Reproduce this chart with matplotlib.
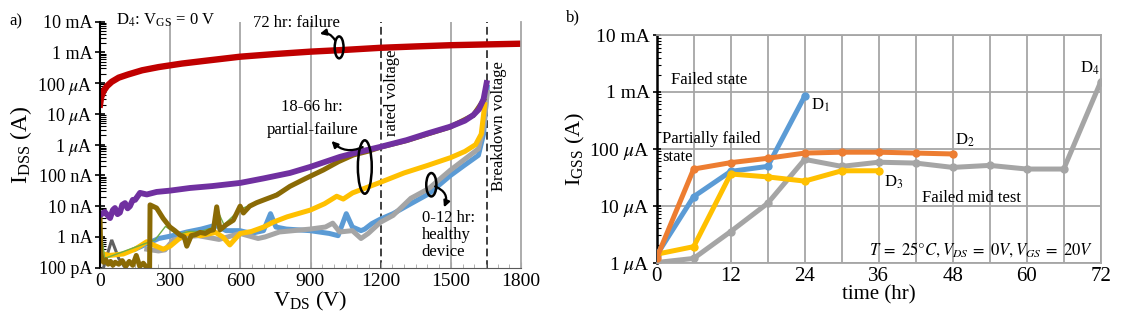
import matplotlib
matplotlib.use("Agg")
import matplotlib.pyplot as plt
from matplotlib.patches import Ellipse
from matplotlib.ticker import FixedLocator, LogLocator, NullFormatter, MultipleLocator

plt.rcParams['font.family'] = ['Liberation Serif', 'DejaVu Serif']
plt.rcParams['mathtext.fontset'] = 'stix'

# ---- a) drain leakage sweeps, D4 ----
v_red = [0, 5, 15, 30, 50, 80, 120, 180, 250, 350, 450, 600, 750, 900, 1050, 1200, 1350, 1500, 1650, 1800]
i_red = [2.0e-5, 3.5e-5, 5.5e-5, 8e-5, 1.1e-4, 1.5e-4, 1.9e-4, 2.6e-4, 3.3e-4, 4.3e-4, 5.3e-4, 7.2e-4,
         8.8e-4, 1.05e-3, 1.2e-3, 1.4e-3, 1.55e-3, 1.7e-3, 1.8e-3, 1.9e-3]

v_purple = [0, 20, 43, 55, 64, 75, 85, 95, 107, 118, 128, 140, 150, 171, 200, 242, 300, 385, 480, 600,
            700, 812, 900, 1026, 1100, 1200, 1311, 1400, 1496, 1560, 1596, 1620, 1640, 1653]
i_purple = [5.1e-9, 6.5e-9, 4.1e-9, 7.5e-9, 8.7e-9, 5.5e-9, 6.2e-9, 1.1e-8, 1.26e-8, 8.5e-9, 1.0e-8,
            1.6e-8, 1.6e-8, 2.7e-8, 2.4e-8, 2.9e-8, 3.2e-8, 3.9e-8, 4.5e-8, 5.7e-8, 8e-8, 1.2e-7, 1.9e-7,
            4e-7, 5.6e-7, 8.5e-7, 1.4e-6, 2.3e-6, 3.8e-6, 6e-6, 9.1e-6, 1.4e-5, 3e-5, 1e-4]

v_olive = [0, 3, 8, 15, 25, 35, 45, 55, 65, 80, 95, 110, 125, 140, 155, 170, 185, 200, 212, 214, 242, 270,
           299, 320, 342, 360, 371, 390, 410, 428, 450, 470, 485, 499, 513, 540, 570, 599, 613, 640, 670,
           710, 756, 812, 880, 955, 1020, 1083, 1150, 1200, 1311, 1400, 1496, 1596, 1640]
i_olive = [5e-9, 3e-10, 2e-10, 1.5e-10, 1.8e-10, 1.3e-10, 1.6e-10, 1.2e-10, 1.5e-10, 1.3e-10, 1.7e-10,
           1.1e-10, 1.6e-10, 1.2e-10, 2.5e-10, 1.1e-10, 1.4e-10, 1.0e-10, 9e-11, 1.1e-8, 8.7e-9, 4e-9,
           2.1e-9, 1.6e-9, 1.15e-9, 1.0e-9, 5e-10, 1.1e-9, 1.2e-9, 1.4e-9, 1.3e-9, 1.6e-9, 1.7e-9, 9.5e-9,
           1.7e-9, 2.5e-9, 3.5e-9, 1e-8, 6e-9, 1.0e-8, 1.3e-8, 1.7e-8, 2.3e-8, 4.4e-8, 8e-8, 1.5e-7,
           2.8e-7, 4.6e-7, 6.2e-7, 8.3e-7, 1.35e-6, 2.2e-6, 3.7e-6, 9e-6, 2.8e-5]

v_green = [0, 5, 20, 235, 280, 330, 380, 430, 480, 500, 530, 600, 700, 800, 900, 1000, 1100, 1300, 1500, 1600]
i_green = [2.5e-8, 1.5e-9, 2e-10, 8e-10, 2.2e-9, 1.2e-9, 1.5e-9, 1.5e-9, 2e-9, 8e-9, 2.5e-9, 8e-9,
           1.6e-8, 4e-8, 9e-8, 2.4e-7, 5e-7, 1.4e-6, 3.8e-6, 8e-6]

v_dgray = [15, 30, 50, 65, 80, 100]
i_dgray = [1e-10, 2.5e-10, 8e-10, 4e-10, 2e-10, 1.2e-10]

v_blue = [150, 205, 251, 311, 372, 433, 494, 539, 598, 646, 699, 729, 752, 797, 898, 980, 1018, 1053,
          1079, 1116, 1132, 1162, 1199, 1253, 1329, 1405, 1499, 1557, 1618, 1640, 1656]
i_blue = [4e-10, 6.2e-10, 8.9e-10, 1.1e-9, 1.45e-9, 1.8e-9, 2.4e-9, 1.6e-9, 1.6e-9, 1.3e-9, 1.6e-9,
          5.7e-9, 2.1e-9, 1.8e-9, 1.6e-9, 1.3e-9, 1.1e-9, 5.7e-9, 2.1e-9, 1.6e-9, 1.8e-9, 2.7e-9, 3.8e-9,
          5.7e-9, 1.2e-8, 2.5e-8, 1e-7, 2.1e-7, 4.5e-7, 2.2e-6, 7.3e-5]

v_gray = [200, 250, 278, 313, 360, 420, 509, 598, 676, 706, 767, 898, 964, 995, 1025, 1079, 1116, 1147,
          1199, 1253, 1329, 1405, 1499, 1618, 1640, 1656]
i_gray = [4e-10, 3.5e-10, 3.8e-10, 7.9e-10, 1.0e-9, 1.1e-9, 8.3e-10, 1.3e-9, 8.9e-10, 1e-9, 1.45e-9,
          1.8e-9, 2.1e-9, 2.8e-9, 1.45e-9, 1.6e-9, 8.9e-10, 1.3e-9, 3e-9, 5e-9, 1.8e-8, 3.7e-8, 1.5e-7,
          7.3e-7, 3.7e-6, 5e-5]

v_yellow = [0, 40, 100, 150, 200, 235, 270, 300, 340, 373, 430, 494, 525, 555, 580, 600, 647, 700, 740,
            800, 900, 960, 1012, 1040, 1080, 1200, 1300, 1400, 1500, 1560, 1606, 1630, 1645]
i_yellow = [3e-10, 2.5e-10, 2.8e-10, 4e-10, 7e-10, 5.2e-10, 4e-10, 5e-10, 9e-10, 1.3e-9, 1.1e-9, 1.4e-9,
            1e-9, 5.5e-10, 9e-10, 1.3e-9, 1.5e-9, 2.1e-9, 3e-9, 4.5e-9, 7.5e-9, 1.2e-8, 2.1e-8, 1.7e-8,
            2.7e-8, 6e-8, 1.2e-7, 2.1e-7, 3.8e-7, 6e-7, 1.0e-6, 2.2e-6, 2e-5]

ya_ticks = [1e-10, 1e-9, 1e-8, 1e-7, 1e-6, 1e-5, 1e-4, 1e-3, 1e-2]
ya_labels = ['100 pA', '1 nA', '10 nA', '100 nA', r'1 $\mu$A', r'10 $\mu$A', r'100 $\mu$A', '1 mA', '10 mA']
xa_ticks = [0, 300, 600, 900, 1200, 1500, 1800]

# ---- b) gate leakage over stress time ----
t_d1 = [0, 6, 12, 18, 24]
ig_d1 = [1.35e-6, 14.4e-6, 40e-6, 49e-6, 840e-6]
t_d2 = [0, 6, 12, 18, 24, 30, 36, 42, 48]
ig_d2 = [1.2e-6, 44e-6, 57e-6, 68e-6, 84e-6, 87e-6, 87e-6, 84e-6, 81e-6]
t_d3 = [0, 6, 12, 18, 24, 30, 36]
ig_d3 = [1.4e-6, 1.9e-6, 36e-6, 32e-6, 27e-6, 41e-6, 41e-6]
t_d4 = [0, 6, 12, 18, 24, 30, 36, 42, 48, 54, 60, 66, 72]
ig_d4 = [1.0e-6, 1.18e-6, 3.5e-6, 11e-6, 65e-6, 49e-6, 58e-6, 56e-6, 47e-6, 51e-6, 44e-6, 44e-6, 1.5e-3]

yb_ticks = [1e-6, 1e-5, 1e-4, 1e-3, 1e-2]
yb_labels = [r'1 $\mu$A', r'10 $\mu$A', r'100 $\mu$A', '1 mA', '10 mA']

fig = plt.figure(figsize=(11.25, 3.29), dpi=100)
ax1 = fig.add_axes([0.0889, 0.1863, 0.3742, 0.7483])
ax2 = fig.add_axes([0.5837, 0.2021, 0.3947, 0.6915])

grid_c = '#a6a6a6'

# left panel
for v in [300, 600, 900, 1500]:
    ax1.axvline(v, color=grid_c, lw=1.3, zorder=0)
for v in [1200, 1653]:
    ax1.axvline(v, color='#404040', lw=1.4, ls=(0, (4, 2)), zorder=0)

ax1.plot(v_dgray, i_dgray, color='#606060', lw=2.2, solid_joinstyle='miter')
ax1.plot(v_blue, i_blue, color='#5b9bd5', lw=3.6)
ax1.plot(v_gray, i_gray, color='#a5a5a5', lw=3.6)
ax1.plot(v_yellow, i_yellow, color='#ffc000', lw=3.6)
ax1.plot(v_green, i_green, color='#70ad47', lw=1.0)
ax1.plot(v_olive, i_olive, color='#8a6a05', lw=3.6)
ax1.plot(v_purple, i_purple, color='#7030a0', lw=4.2)
ax1.plot(v_red, i_red, color='#c00000', lw=4.6)

ax1.set_yscale('log')
ax1.set_ylim(1e-10, 1e-2)
ax1.set_xlim(0, 1800)
ax1.yaxis.set_major_locator(FixedLocator(ya_ticks))
ax1.set_yticklabels(ya_labels)
ax1.yaxis.set_minor_locator(LogLocator(base=10, subs=range(2, 10), numticks=20))
ax1.yaxis.set_minor_formatter(NullFormatter())
ax1.set_xticks(xa_ticks)
ax1.xaxis.set_minor_locator(MultipleLocator(50))
ax1.tick_params(axis='y', which='major', direction='inout', length=7, width=1.2, labelsize=13, pad=2)
ax1.tick_params(axis='y', which='minor', direction='in', length=4, width=0.8)
ax1.tick_params(axis='x', which='major', direction='in', length=4, color=grid_c, labelsize=14)
ax1.tick_params(axis='x', which='minor', direction='in', length=3, color=grid_c)
ax1.spines['top'].set_visible(False)
ax1.spines['right'].set_color(grid_c)
ax1.spines['right'].set_linewidth(1.3)
ax1.spines['bottom'].set_color('#595959')
ax1.spines['left'].set_linewidth(1.5)
ax1.set_ylabel(r'$\mathregular{I_{DSS}}$ (A)', fontsize=17, labelpad=2)
ax1.set_xlabel(r'$\mathregular{V_{DS}}$ (V)', fontsize=16, labelpad=0)

ax1.text(654, 9e-3, '72 hr: failure', fontsize=12, va='center')
ax1.text(907, 1.7e-5, '18-66 hr:', fontsize=12, ha='center', va='center')
ax1.text(907, 3.0e-6, 'partial-failure', fontsize=12, ha='center', va='center')
ax1.text(1375, 4e-9, '0-12 hr:', fontsize=12, va='center')
ax1.text(1375, 1.15e-9, 'healthy', fontsize=12, va='center')
ax1.text(1375, 3.3e-10, 'device', fontsize=12, va='center')
ax1.text(1247, 1.2e-3, 'rated voltage', fontsize=12, rotation=90, ha='center', va='top')
ax1.text(1707, 5e-4, 'Breakdown voltage', fontsize=12, rotation=90, ha='center', va='top')

for cx, cy, w, h in [(0.568, 0.895, 0.021, 0.089), (0.629, 0.409, 0.033, 0.217), (0.787, 0.337, 0.024, 0.095)]:
    ax1.add_patch(Ellipse((cx, cy), w, h, transform=ax1.transAxes, fill=False, ec='black', lw=1.8, zorder=6))

arrow = dict(arrowstyle='-|>', color='black', lw=1.6, mutation_scale=9, shrinkA=0, shrinkB=0)
ax1.annotate('', xy=(0.522, 0.95), xytext=(0.558, 0.925), xycoords='axes fraction',
             arrowprops=dict(arrow, connectionstyle='arc3,rad=0.35'))
ax1.annotate('', xy=(0.55, 0.515), xytext=(0.624, 0.49), xycoords='axes fraction',
             arrowprops=dict(arrow, connectionstyle='arc3,rad=-0.35'))
ax1.annotate('', xy=(0.817, 0.245), xytext=(0.796, 0.33), xycoords='axes fraction',
             arrowprops=dict(arrow, connectionstyle='arc3,rad=-0.5'))

fig.text(0.103, 0.938, r'D$_4$: V$_{\mathregular{GS}}$ = 0 V', fontsize=12, va='center',
         math_fontfamily='stix')
fig.text(0.008, 0.936, 'a)', fontsize=12, va='center')

# right panel
series = [(t_d1, ig_d1, '#5b9bd5'), (t_d4, ig_d4, '#a5a5a5'), (t_d3, ig_d3, '#ffc000'), (t_d2, ig_d2, '#ed7d31')]
ax2.plot(t_d4, ig_d4, color='#a5a5a5', lw=3.6, marker='o', ms=5, zorder=3)
ax2.plot(t_d1, ig_d1, color='#5b9bd5', lw=3.6, marker='o', ms=5, zorder=3)
ax2.plot(t_d3, ig_d3, color='#ffc000', lw=3.6, marker='o', ms=5, zorder=3)
ax2.plot(t_d2, ig_d2, color='#ed7d31', lw=3.6, marker='o', ms=5, zorder=3)

ax2.set_yscale('log')
ax2.set_ylim(1e-6, 1e-2)
ax2.set_xlim(0, 72)
ax2.yaxis.set_major_locator(FixedLocator(yb_ticks))
ax2.set_yticklabels(yb_labels)
ax2.yaxis.set_minor_locator(LogLocator(base=10, subs=range(2, 10), numticks=20))
ax2.yaxis.set_minor_formatter(NullFormatter())
ax2.set_xticks(range(0, 73, 12))
ax2.xaxis.set_minor_locator(MultipleLocator(6))
ax2.grid(True, which='major', color=grid_c, lw=1.3, zorder=0)
ax2.grid(True, which='minor', axis='x', color=grid_c, lw=1.3, zorder=0)
ax2.tick_params(axis='y', which='major', direction='inout', length=6, width=1.2, labelsize=14, pad=2)
ax2.tick_params(axis='y', which='minor', direction='in', length=3, width=0.8)
ax2.tick_params(axis='x', which='both', length=0, labelsize=15, pad=3)
for s in ['top', 'right', 'bottom']:
    ax2.spines[s].set_color(grid_c)
    ax2.spines[s].set_linewidth(1.3)
ax2.spines['left'].set_linewidth(1.8)
ax2.set_ylabel(r'$\mathregular{I_{GSS}}$ (A)', fontsize=16, labelpad=2)
ax2.set_xlabel('time (hr)', fontsize=15, labelpad=0)

ax2.text(2.4, 1.6e-3, 'Failed state', fontsize=12, va='center')
ax2.text(0.9, 1.5e-4, 'Partially failed', fontsize=12, va='center')
ax2.text(0.9, 7.2e-5, 'state', fontsize=12, va='center')
ax2.text(43, 1.34e-5, 'Failed mid test', fontsize=12, va='center')
ax2.text(25, 5.9e-4, r'D$_1$', fontsize=12, va='center')
ax2.text(48.3, 1.4e-4, r'D$_2$', fontsize=12, va='center')
ax2.text(36.8, 2.6e-5, r'D$_3$', fontsize=12, va='center')
ax2.text(68.7, 2.6e-3, r'D$_4$', fontsize=12, va='center')
ax2.text(34.5, 1.7e-6, r'$T\;=\;25°C, V_{DS}\;=\;0V, V_{GS}\;=\;20V$', fontsize=12, va='center')
fig.text(0.503, 0.948, 'b)', fontsize=12, va='center')

fig.savefig('out.png', dpi=100)
